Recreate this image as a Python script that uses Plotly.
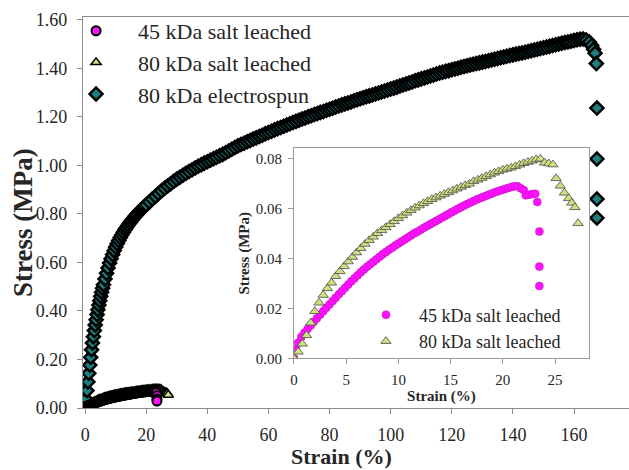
import plotly.graph_objects as go

# ---------------- data ----------------
# 45 kDa salt leached (strain %, stress MPa)
s45_strain = [0.0, 0.2, 0.4, 0.7, 1.0, 1.3, 1.6, 1.9, 2.2, 2.5, 2.8, 3.1, 3.4, 3.7, 4.0, 4.3, 4.6, 4.9,
              5.2, 5.5, 5.8, 6.1, 6.4, 6.7, 7.0, 7.3, 7.6, 7.9, 8.2, 8.5, 8.8, 9.1, 9.4, 9.7, 10.0,
              10.3, 10.6, 10.9, 11.2, 11.5, 11.8, 12.1, 12.4, 12.7, 13.0, 13.3, 13.6, 13.9, 14.2,
              14.5, 14.8, 15.1, 15.4, 15.7, 16.0, 16.3, 16.6, 16.9, 17.2, 17.5, 17.8, 18.1, 18.4,
              18.7, 19.0, 19.3, 19.6, 19.9, 20.2, 20.5, 20.8, 21.1, 21.4, 21.7, 22.0, 22.2, 22.5,
              22.8, 23.1, 23.3, 23.5, 23.5, 23.5]
s45_stress = [0.0, 0.0035, 0.0062, 0.0085, 0.0102, 0.0117, 0.0131, 0.0146, 0.0160, 0.0174, 0.0188,
              0.0202, 0.0215, 0.0229, 0.0242, 0.0256, 0.0269, 0.0282, 0.0295, 0.0308, 0.0320,
              0.0332, 0.0344, 0.0355, 0.0366, 0.0376, 0.0386, 0.0396, 0.0406, 0.0416, 0.0425,
              0.0434, 0.0442, 0.0451, 0.0459, 0.0467, 0.0475, 0.0483, 0.0491, 0.0499, 0.0506,
              0.0513, 0.0521, 0.0528, 0.0535, 0.0542, 0.0549, 0.0556, 0.0563, 0.0570, 0.0577,
              0.0584, 0.0591, 0.0598, 0.0604, 0.0611, 0.0617, 0.0623, 0.0629, 0.0635, 0.0640,
              0.0645, 0.0650, 0.0655, 0.0660, 0.0665, 0.0669, 0.0673, 0.0677, 0.0681, 0.0685,
              0.0688, 0.0688, 0.0680, 0.0673, 0.0652, 0.0654, 0.0657, 0.0658, 0.0625, 0.0507,
              0.0367, 0.0289]

# 80 kDa salt leached
s80_strain = [0.0, 0.4, 0.8, 1.2, 1.6, 2.0, 2.4, 2.8, 3.2, 3.6, 4.0, 4.4, 4.8, 5.2, 5.6, 6.0, 6.4,
              6.8, 7.2, 7.6, 8.0, 8.4, 8.8, 9.2, 9.6, 10.0, 10.4, 10.8, 11.2, 11.6, 12.0, 12.4,
              12.8, 13.2, 13.6, 14.0, 14.4, 14.8, 15.2, 15.6, 16.0, 16.4, 16.8, 17.2, 17.6, 18.0,
              18.4, 18.8, 19.2, 19.6, 20.0, 20.4, 20.8, 21.2, 21.6, 22.0, 22.4, 22.8, 23.2, 23.6,
              24.0, 24.4, 24.8, 25.1, 25.5, 25.9, 26.3, 26.6, 26.9, 27.2]
s80_stress = [0.0, 0.0026, 0.0058, 0.0092, 0.0142, 0.0188, 0.0222, 0.0253, 0.0280, 0.0302, 0.0328,
              0.0348, 0.0368, 0.0387, 0.0405, 0.0423, 0.0440, 0.0457, 0.0472, 0.0486, 0.0500,
              0.0512, 0.0524, 0.0536, 0.0548, 0.0560, 0.0571, 0.0582, 0.0592, 0.0602, 0.0611,
              0.0620, 0.0628, 0.0636, 0.0643, 0.0650, 0.0657, 0.0664, 0.0671, 0.0678, 0.0685,
              0.0692, 0.0698, 0.0708, 0.0714, 0.0721, 0.0728, 0.0735, 0.0742, 0.0748, 0.0754,
              0.0758, 0.0762, 0.0768, 0.0774, 0.0780, 0.0785, 0.0790, 0.0795, 0.0798, 0.0782,
              0.0779, 0.0775, 0.0720, 0.0690, 0.0662, 0.0640, 0.0622, 0.0604, 0.0540]

# 80 kDa electrospun
es_strain = [0.0, 0.3, 0.6, 0.9, 1.2, 1.5, 1.8, 2.1, 2.4, 2.7, 3.0, 3.3, 3.6, 3.9, 4.2, 4.5, 4.8,
             5.1, 5.4, 5.7, 6.0, 6.5, 7.0, 7.5, 8.0, 8.5, 9.0, 9.5, 10.0, 10.5, 11.0, 11.5, 12.0,
             12.5, 13.0, 13.5, 14.0, 14.5, 15.0, 15.5, 16.0, 16.5, 17.0, 17.5, 18.0, 18.5, 19.0,
             19.5, 20.0, 21, 22, 23, 24, 25, 26, 27, 28, 29, 30, 31, 32, 33, 34, 35, 36, 37, 38,
             39, 40, 41, 42, 43, 44, 45, 46, 47, 48, 49, 50, 51, 52, 53, 54, 55, 56, 57, 58, 59,
             60, 61, 62, 63, 64, 65, 66, 67, 68, 69, 70, 71, 72, 73, 74, 75, 76, 77, 78, 79, 80,
             81, 82, 83, 84, 85, 86, 87, 88, 89, 90, 91, 92, 93, 94, 95, 96, 97, 98, 99, 100,
             101, 102, 103, 104, 105, 106, 107, 108, 109, 110, 111, 112, 113, 114, 115, 116, 117,
             118, 119, 120, 121, 122, 123, 124, 125, 126, 127, 128, 129, 130, 131, 132, 133, 134,
             135, 136, 137, 138, 139, 140, 141, 142, 143, 144, 145, 146, 147, 148, 149, 150, 151,
             152, 153, 154, 155, 156, 157, 158, 159, 160, 161, 162, 163, 164, 165, 165.8, 166.4,
             166.9, 167.3, 167.5, 167.5, 167.5, 167.5]
es_stress = [0.0, 0.036, 0.072, 0.108, 0.143, 0.177, 0.209, 0.240, 0.268, 0.294, 0.319, 0.342,
             0.364, 0.385, 0.405, 0.424, 0.442, 0.460, 0.477, 0.493, 0.508, 0.532, 0.555, 0.577,
             0.597, 0.615, 0.632, 0.648, 0.663, 0.677, 0.690, 0.702, 0.713, 0.724, 0.734, 0.743,
             0.752, 0.761, 0.769, 0.777, 0.785, 0.792, 0.799, 0.806, 0.813, 0.819, 0.825, 0.831,
             0.837, 0.849, 0.861, 0.872, 0.884, 0.895, 0.905, 0.915, 0.924, 0.934, 0.943, 0.951,
             0.959, 0.967, 0.974, 0.982, 0.989, 0.996, 1.002, 1.009, 1.015, 1.021, 1.027, 1.033,
             1.039, 1.045, 1.052, 1.059, 1.066, 1.073, 1.080, 1.086, 1.091, 1.097, 1.102, 1.108,
             1.113, 1.119, 1.124, 1.130, 1.135, 1.140, 1.146, 1.151, 1.156, 1.161, 1.166, 1.171,
             1.176, 1.181, 1.186, 1.191, 1.195, 1.200, 1.204, 1.209, 1.213, 1.218, 1.222, 1.227,
             1.231, 1.235, 1.240, 1.244, 1.249, 1.253, 1.257, 1.261, 1.266, 1.270, 1.274, 1.278,
             1.282, 1.286, 1.290, 1.294, 1.298, 1.302, 1.306, 1.310, 1.314, 1.318, 1.322, 1.327,
             1.331, 1.335, 1.339, 1.343, 1.348, 1.352, 1.356, 1.360, 1.364, 1.368, 1.372, 1.376,
             1.380, 1.383, 1.387, 1.390, 1.394, 1.397, 1.400, 1.404, 1.407, 1.410, 1.413, 1.416,
             1.419, 1.422, 1.425, 1.428, 1.431, 1.434, 1.437, 1.440, 1.443, 1.446, 1.449, 1.452,
             1.455, 1.458, 1.461, 1.463, 1.466, 1.469, 1.472, 1.475, 1.478, 1.481, 1.484, 1.487,
             1.490, 1.494, 1.497, 1.500, 1.503, 1.506, 1.508, 1.511, 1.514, 1.517, 1.519, 1.520,
             1.516, 1.508, 1.494, 1.478, 1.462, 1.419, 1.236, 1.026, 0.861, 0.783]

names = ["45 kDa salt leached", "80 kDa salt leached", "80 kDa electrospun"]

MAGENTA = "#FF10FF"
GREEN = "#CCE27E"
TEAL = "#1E7E7E"
FONT = "Liberation Serif"
TXT = "#262626"
AX = "#8c8c8c"

fig = go.Figure()

# ---- main plot ----
fig.add_trace(go.Scatter(
    x=es_strain, y=es_stress, mode="markers", name=names[2], legend="legend", legendrank=3,
    marker=dict(symbol="diamond", size=10, color=TEAL, line=dict(color="black", width=2.5))))
fig.add_trace(go.Scatter(
    x=s80_strain, y=s80_stress, mode="markers", name=names[1], legend="legend", legendrank=2,
    marker=dict(symbol="triangle-up", size=9, color=GREEN, line=dict(color="black", width=1.5))))
fig.add_trace(go.Scatter(
    x=s45_strain, y=s45_stress, mode="markers", name=names[0], legend="legend", legendrank=1,
    marker=dict(symbol="circle", size=9, color=MAGENTA, line=dict(color="black", width=2))))

# ---- inset ----
fig.add_trace(go.Scatter(
    x=s45_strain, y=s45_stress, mode="markers", name=names[0], xaxis="x2", yaxis="y2",
    legend="legend2", legendrank=1,
    marker=dict(symbol="circle", size=8, color=MAGENTA, line=dict(color="#b414b4", width=0.5))))
fig.add_trace(go.Scatter(
    x=s80_strain, y=s80_stress, mode="markers", name=names[1], xaxis="x2", yaxis="y2",
    legend="legend2", legendrank=2,
    marker=dict(symbol="triangle-up", size=9, color=GREEN, line=dict(color="#4a4a4a", width=0.8))))

fig.update_layout(
    width=629, height=470,
    margin=dict(l=83, r=0, t=17, b=62, autoexpand=False),
    paper_bgcolor="white", plot_bgcolor="white",
    font=dict(family=FONT, color=TXT),
    xaxis=dict(range=[-0.7, 178], dtick=20, tick0=0, showgrid=False, zeroline=False,
               showline=True, linecolor=AX, linewidth=1.3, mirror=True,
               ticks="outside", ticklen=5, tickcolor=AX, ticklabelstandoff=5,
               tickfont=dict(size=18, family=FONT, color=TXT)),
    yaxis=dict(range=[0, 1.611], dtick=0.2, tick0=0, tickformat=".2f", showgrid=False,
               zeroline=False, showline=True, linecolor=AX, linewidth=1.3,
               ticks="outside", ticklen=5, tickcolor=AX, ticklabelstandoff=6,
               tickfont=dict(size=18, family=FONT, color=TXT)),
    xaxis2=dict(domain=[0.3864, 0.9267], anchor="y2", range=[0, 28.25], dtick=5, tick0=0,
                showgrid=False, zeroline=False, showline=True, linecolor="#9a9a9a", mirror=True,
                ticks="outside", ticklen=5, tickcolor="#9a9a9a", ticklabelstandoff=3,
                tickfont=dict(size=15, family=FONT, color=TXT),
                title=dict(text="<b>Strain (%)</b>", font=dict(size=15, family=FONT, color=TXT),
                           standoff=2)),
    yaxis2=dict(domain=[0.1271, 0.6642], anchor="x2", range=[0, 0.084], dtick=0.02, tick0=0,
                tickformat=".2f", showgrid=False, zeroline=False, showline=True,
                linecolor="#9a9a9a", mirror=True, ticks="outside", ticklen=5,
                tickcolor="#9a9a9a", ticklabelstandoff=3,
                tickfont=dict(size=15, family=FONT, color=TXT),
                title=dict(text="<b>Stress (MPa)</b>", font=dict(size=15, family=FONT, color=TXT),
                           standoff=2)),
    legend=dict(x=-0.053, y=1.018, xanchor="left", yanchor="top", itemwidth=74,
                bgcolor="rgba(0,0,0,0)", font=dict(size=22, family=FONT, color=TXT),
                tracegroupgap=0),
    legend2=dict(x=0.4945, y=0.285, xanchor="left", yanchor="top", itemwidth=56,
                 bgcolor="rgba(0,0,0,0)", font=dict(size=18, family=FONT, color=TXT)),
    showlegend=True,
    annotations=[
        dict(text="<b>Stress (MPa)</b>", textangle=-90, xref="paper", yref="paper",
             x=-0.11, y=0.4757, xanchor="center", yanchor="middle", showarrow=False,
             font=dict(size=27, family=FONT, color=TXT)),
        dict(text="<b>Strain (%)</b>", xref="paper", yref="paper",
             x=0.474, y=-0.1586, xanchor="center", yanchor="bottom", showarrow=False,
             borderpad=0, font=dict(size=22, family=FONT, color=TXT)),
    ],
)

fig.write_html("out.html", config={"displayModeBar": False},
               post_script="document.body.style.margin='0px';")
